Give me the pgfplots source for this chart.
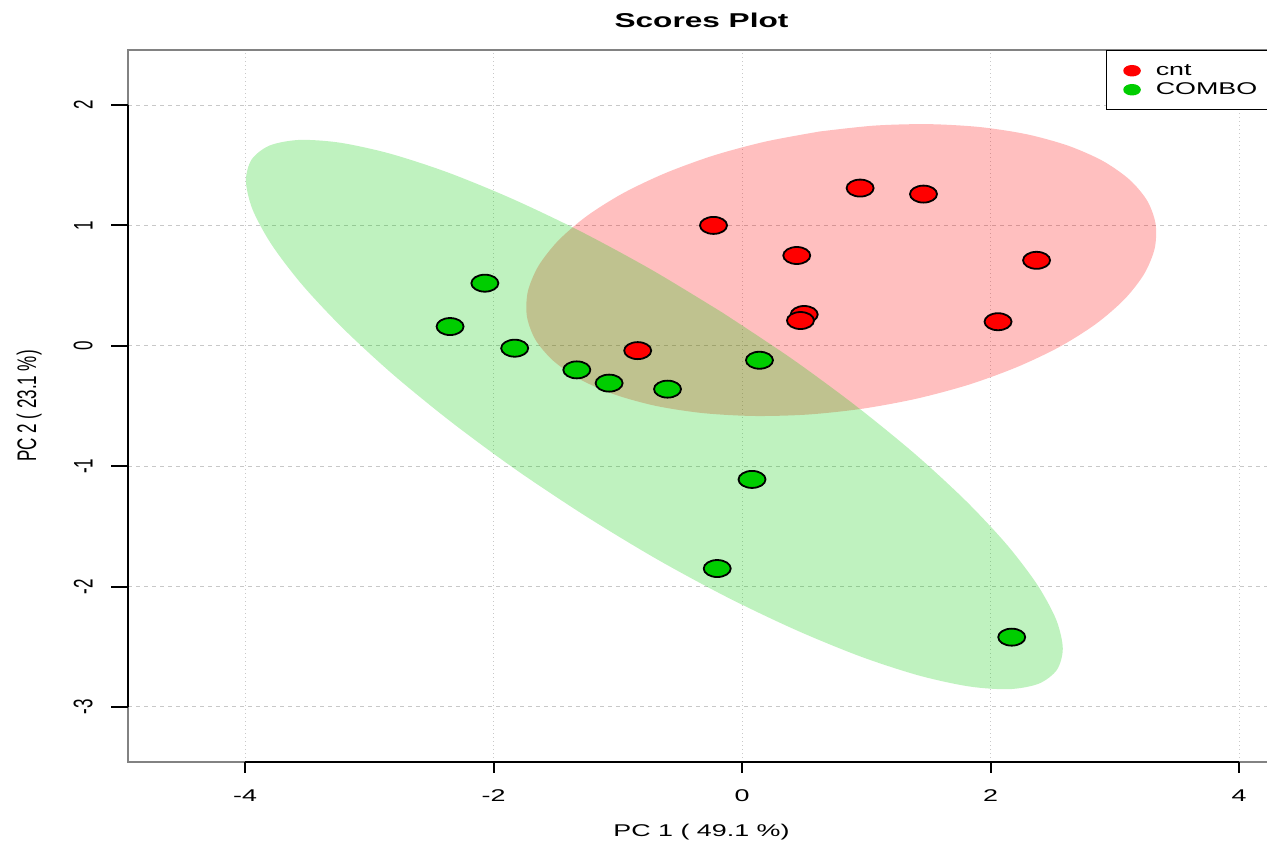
\documentclass[border=0pt]{standalone}
\usepackage{fontspec}
\setmainfont{Liberation Sans}
\usepackage{graphicx}
\usepackage{pgfplots}
\pgfplotsset{compat=1.18}
\definecolor{grn}{RGB}{0,205,0}
\definecolor{framegray}{RGB}{130,130,130}
\definecolor{gridgray}{RGB}{200,200,200}
\newcommand{\hs}[1]{\scalebox{1.58}[1]{#1}}
\newcommand{\vs}[1]{\scalebox{1}[1.58]{#1}}

\begin{document}
\begin{tikzpicture}
\path[use as bounding box] (0,0) rectangle (633.5pt,422pt);
\begin{axis}[
 at={(64pt,41pt)}, anchor=south west,
 scale only axis, width=573.5pt, height=356pt,
 xmin=-4.942, xmax=4.289, ymin=-3.457, ymax=2.457,
 clip=false,
 axis line style={framegray, line width=1pt},
 xtick={-4,-2,0,2,4}, ytick={-3,-2,-1,0,1,2},
 xticklabels={{\hs{-4}},{\hs{-2}},{\hs{0}},{\hs{2}},{\hs{4}}},
 yticklabels={{\vs{-3}},{\vs{-2}},{\vs{-1}},{\vs{0}},{\vs{1}},{\vs{2}}},
 major tick length=0pt, tick style={draw=none},
 tick align=outside, tick pos=left,
 xticklabel shift=10.2pt, yticklabel shift=14.2pt,
 yticklabel style={rotate=90, anchor=south},
 xticklabel style={anchor=north},
 tick label style={font=\fontsize{8.5}{10}\selectfont, text=black},
 xmajorgrids, ymajorgrids,
 major x grid style={gridgray, line width=0.5pt, dash pattern=on 0.6pt off 1.4pt},
 major y grid style={gridgray, line width=0.5pt, dash pattern=on 2pt off 2pt},
 every axis title shift=0pt,
 title={\hs{\bfseries Scores Plot}},
 title style={at={(axis description cs:0.5,1.0309)}, anchor=base, yshift=0pt, font=\fontsize{10}{12}\selectfont},
 xlabel={\hs{PC 1 ( 49.1 \%)}},
 xlabel style={at={(axis description cs:0.5,-0.1053)}, anchor=base, font=\fontsize{8.5}{10}\selectfont},
 ylabel={\vs{PC 2 ( 23.1 \%)}},
 ylabel style={at={(axis description cs:-0.0800,0.5)}, anchor=base, font=\fontsize{8.5}{10}\selectfont},
 legend style={at={(1,1)}, anchor=north east, draw=black, line width=0.75pt, fill=white,
   inner xsep=8.5pt, inner ysep=6pt, column sep=7.5pt, row sep=1.5pt,
   font=\fontsize{8.5}{10}\selectfont,
   nodes={inner sep=0pt, text height=6.2pt, text depth=1.8pt, anchor=west}},
 legend cell align=left,
]
% 95% confidence ellipses
\addplot[forget plot, draw=none, fill=red, fill opacity=0.25, smooth] coordinates {
(0.624,1.780) (0.187,1.696) (-0.231,1.580)
(-0.618,1.434) (-0.962,1.265) (-1.252,1.076) (-1.480,0.873) (-1.639,0.663) (-1.724,0.452)
(-1.732,0.246) (-1.664,0.052) (-1.520,-0.124) (-1.306,-0.278) (-1.028,-0.404) (-0.695,-0.499)
(-0.316,-0.559) (0.096,-0.583) (0.530,-0.571) (0.972,-0.522) (1.409,-0.438) (1.827,-0.322)
(2.214,-0.176) (2.558,-0.007) (2.848,0.182) (3.076,0.385) (3.235,0.595) (3.320,0.806)
(3.328,1.012) (3.260,1.206) (3.116,1.382) (2.902,1.536) (2.624,1.662) (2.291,1.757)
(1.912,1.817) (1.500,1.841) (1.066,1.829) (0.624,1.780)
} -- cycle;
\addplot[forget plot, draw=none, fill=grn, fill opacity=0.25, smooth] coordinates {
(-0.154,0.273) (-0.724,0.629) (-1.295,0.948)
(-1.848,1.220) (-2.366,1.439) (-2.833,1.596) (-3.236,1.687) (-3.562,1.710) (-3.801,1.664)
(-3.946,1.549) (-3.993,1.371) (-3.940,1.133) (-3.788,0.843) (-3.543,0.510) (-3.212,0.145)
(-2.805,-0.242) (-2.333,-0.639) (-1.813,-1.034) (-1.258,-1.415) (-0.688,-1.771) (-0.117,-2.090)
(0.436,-2.362) (0.954,-2.581) (1.421,-2.738) (1.824,-2.829) (2.150,-2.852) (2.389,-2.806)
(2.534,-2.691) (2.581,-2.513) (2.528,-2.275) (2.376,-1.985) (2.131,-1.652) (1.800,-1.287)
(1.393,-0.900) (0.921,-0.503) (0.401,-0.108) (-0.154,0.273)
} -- cycle;
% scores
\addplot[forget plot, only marks, mark=*, mark size=4.25pt,
  mark options={xscale=1.59, draw=black, fill=red, line width=0.9pt}] coordinates {
(0.95,1.31) (1.46,1.26) (-0.23,1.00) (0.44,0.75) (2.37,0.71)
(0.50,0.26) (0.47,0.21) (2.06,0.20) (-0.84,-0.04)
};
\addplot[forget plot, only marks, mark=*, mark size=4.25pt,
  mark options={xscale=1.59, draw=black, fill=grn, line width=0.9pt}] coordinates {
(-2.07,0.52) (-2.35,0.16) (-1.83,-0.02) (-1.33,-0.20) (-1.07,-0.31)
(-0.60,-0.36) (0.14,-0.12) (0.08,-1.11) (-0.20,-1.85) (2.17,-2.42)
};
\addlegendimage{legend image code/.code={\fill[red] (4pt,0pt) ellipse[x radius=4pt, y radius=2.5pt];}}
\addlegendentry{\hs{cnt}}
\addlegendimage{legend image code/.code={\fill[grn] (4pt,0pt) ellipse[x radius=4pt, y radius=2.5pt];}}
\addlegendentry{\hs{COMBO}}
% axis lines over tick range and tick marks
\draw[black, line width=1pt] (axis cs:-4,-3.457) -- (axis cs:4,-3.457);
\draw[black, line width=1pt] (axis cs:-4.942,-3) -- (axis cs:-4.942,2);
\draw[black, line width=1pt] (axis cs:-4,-3.457) -- ++(0pt,-5.5pt);
\draw[black, line width=1pt] (axis cs:-2,-3.457) -- ++(0pt,-5.5pt);
\draw[black, line width=1pt] (axis cs:0,-3.457) -- ++(0pt,-5.5pt);
\draw[black, line width=1pt] (axis cs:2,-3.457) -- ++(0pt,-5.5pt);
\draw[black, line width=1pt] (axis cs:4,-3.457) -- ++(0pt,-5.5pt);
\draw[black, line width=1pt] (axis cs:-4.942,-3) -- ++(-8.5pt,0pt);
\draw[black, line width=1pt] (axis cs:-4.942,-2) -- ++(-8.5pt,0pt);
\draw[black, line width=1pt] (axis cs:-4.942,-1) -- ++(-8.5pt,0pt);
\draw[black, line width=1pt] (axis cs:-4.942,0) -- ++(-8.5pt,0pt);
\draw[black, line width=1pt] (axis cs:-4.942,1) -- ++(-8.5pt,0pt);
\draw[black, line width=1pt] (axis cs:-4.942,2) -- ++(-8.5pt,0pt);
\end{axis}
\end{tikzpicture}
\end{document}
